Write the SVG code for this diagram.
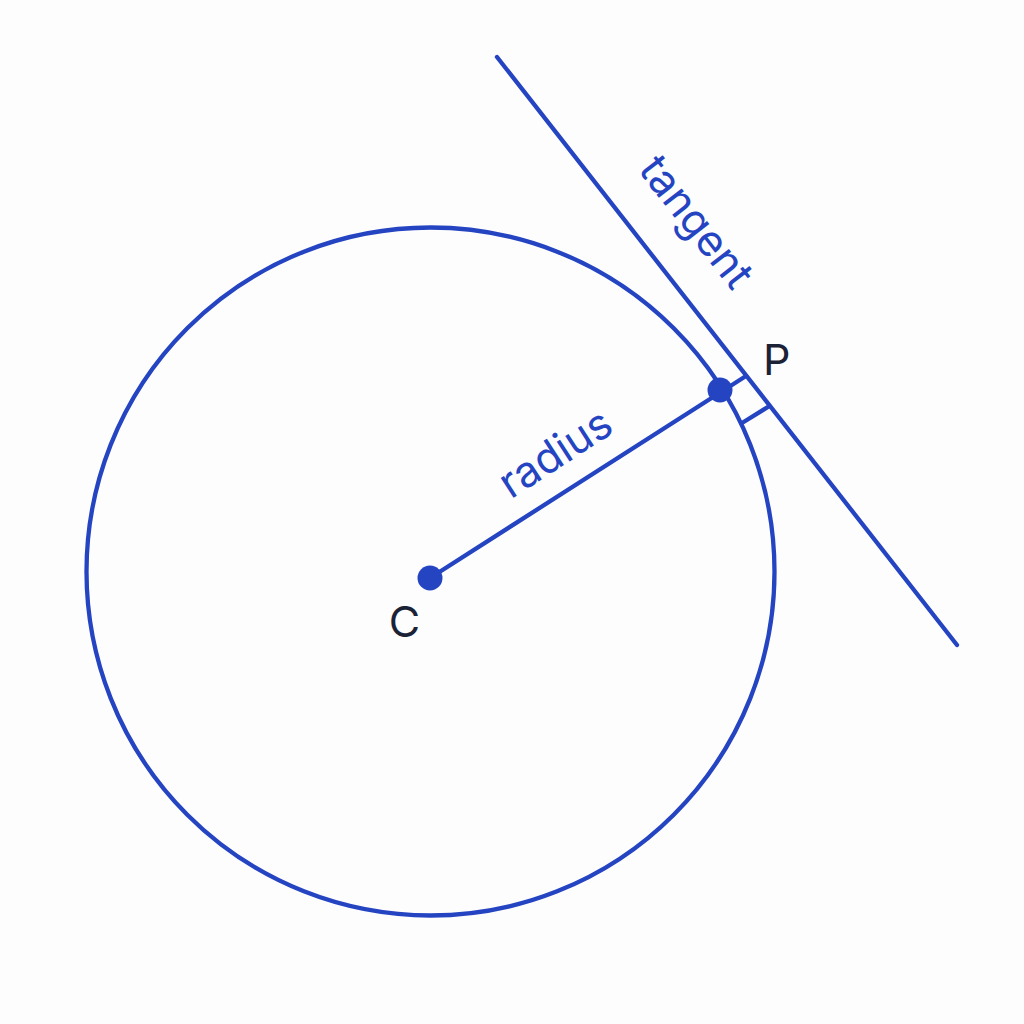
<svg xmlns="http://www.w3.org/2000/svg" width="1024" height="1024" viewBox="0 0 1024 1024">
  <style>
    .ln { fill: none; stroke: #2444C2; stroke-width: 4.3; stroke-linecap: round; }
    .dot { fill: #2444C2; }
    .lbl { font-family: Inter, "Liberation Sans", sans-serif; font-size: 43px; fill: #1B2236; }
    .blbl { font-family: Inter, "Liberation Sans", sans-serif; font-size: 43px; fill: #2444C2; }
  </style>
  <rect width="1024" height="1024" fill="#FDFDFD"/>
  <g id="circle">
    <circle class="ln" cx="430.5" cy="571.5" r="344"/>
  </g>
  <g id="connectors">
    <line id="tangent-line" class="ln" x1="497" y1="57" x2="957" y2="645"/>
    <line id="radius-line" class="ln" x1="430" y1="578" x2="746" y2="376"/>
    <line id="right-angle" class="ln" x1="769.5" y1="406" x2="742" y2="423"/>
  </g>
  <g id="center-C">
    <circle class="dot" cx="430" cy="578" r="12.5"/>
    <text class="lbl" x="404.5" y="637" text-anchor="middle">C</text>
  </g>
  <g id="point-P">
    <circle class="dot" cx="720" cy="390" r="12.5"/>
    <text class="lbl" x="763" y="375">P</text>
  </g>
  <g id="label-radius">
    <text class="blbl" transform="translate(575.2,483.9) rotate(-33)" x="0" y="-22" text-anchor="middle">radius</text>
  </g>
  <g id="label-tangent">
    <text class="blbl" transform="translate(652.6,256.1) rotate(52)" x="0" y="-41" text-anchor="middle">tangent</text>
  </g>
</svg>
